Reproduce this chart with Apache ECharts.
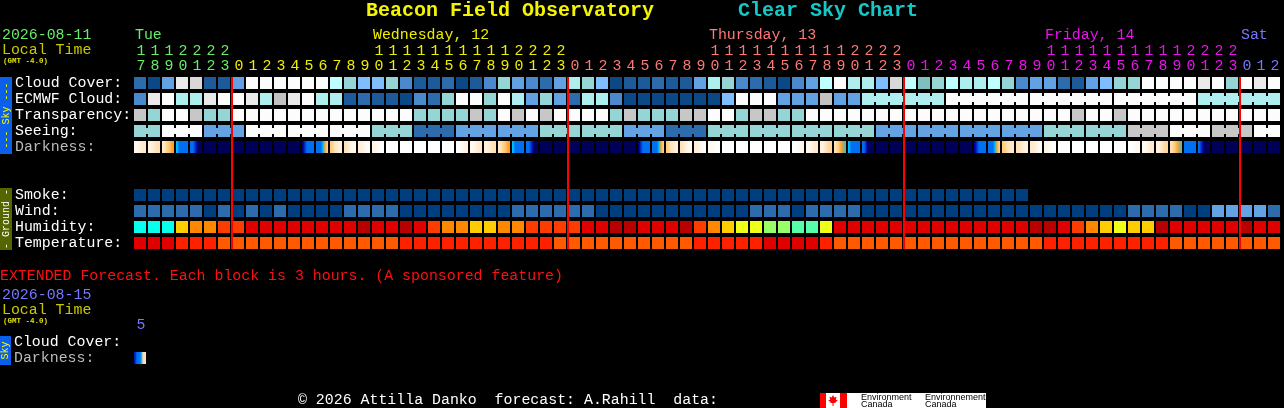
<!DOCTYPE html>
<html><head><meta charset="utf-8">
<script src="https://cdn.jsdelivr.net/npm/echarts@6/dist/echarts.min.js"></script>
<style>html,body{margin:0;padding:0;background:#000;}#c{width:1284px;height:408px;}</style>
</head><body><div id="c"></div>
<script>
// ---------- DATA ----------
const hours = [17,18,19,20,21,22,23,
  0,1,2,3,4,5,6,7,8,9,10,11,12,13,14,15,16,17,18,19,20,21,22,23,
  0,1,2,3,4,5,6,7,8,9,10,11,12,13,14,15,16,17,18,19,20,21,22,23,
  0,1,2,3,4,5,6,7,8,9,10,11,12,13,14,15,16,17,18,19,20,21,22,23,
  0,1,2];
const dayNames = ['Tue','Wednesday, 12','Thursday, 13','Friday, 14','Sat'];
const skyRows = ['Cloud Cover:','ECMWF Cloud:','Transparency:','Seeing:','Darkness:'];
const groundRows = ['Smoke:','Wind:','Humidity:','Temperature:'];

// cloud level index (0 = clear ... 13 = overcast)
const cloudCover = [2,0,4,12,11,1,1,4,13,13, 13,13,13,13,9,7,5,5,7,3,
  1,1,2,0,1,3,7,4,3,2, 4,8,7,5,0,1,1,2,1,1,
  4,8,7,3,2,1,0,3,4,9, 13,8,8,5,11,9,6,7,9,8,
  8,9,7,3,4,4,2,1,4,5, 7,7,13,13,13,13,12,13,7,13, 12,13];
const ecmwfCloud = [3,12,13,8,8,12,13,13,12,8, 10,12,13,8,8,1,2,1,1,0,
  3,2,7,13,13,7,13,8,4,7, 4,2,8,8,3,0,0,0,0,0,
  0,0,5,13,13,13,4,4,4,10, 4,4,8,8,8,8,8,8,13,13,
  13,13,13,13,13,13,13,13,13,13, 13,13,13,13,13,13,8,8,8,8, 8,8];
// 0 = best ... 4 = poor, 5 = too cloudy
const transparency = [4,3,5,5,4,3,3,5,5,5, 5,5,5,5,5,5,5,5,5,5,
  3,3,3,3,4,3,5,4,5,4, 5,5,5,5,3,4,3,3,3,4,
  4,5,5,3,4,4,3,3,5,5, 5,5,5,5,5,5,5,5,5,5,
  5,5,5,5,5,5,5,4,5,5, 4,5,5,5,5,5,5,5,5,5, 5,5];
const seeing = [3,3,5,5,5,2,2,2,5,5, 5,5,5,5,5,5,5,3,3,3,
  1,1,1,2,2,2,2,2,2,3, 3,3,3,3,3,2,2,2,1,1,
  1,3,3,3,3,3,3,3,3,3, 3,3,3,2,2,2,2,2,2,2,
  2,2,2,2,2,3,3,3,3,3, 3,4,4,4,5,5,5,4,4,4, 5,5];
// darkness samples across each hour (0 = daylight ... 9 = darkest)
const darkness = [
  [0.5,1.5],[1,2],[1.5,2.5,3.2,4],[5,6,6,6,6,6],[6,6,7,8,9,9],
  [9],[9],[9],[9],[9],[9],[9],
  [8.5,7,6,6,6,6],[6,6,6,5,4,3],[3,2,1.5,1],[2,1,0.5],[1.2,0.3],[0.8,0],
  [0],[0],[0],[0],[0],
  [0,0.8],[0.5,1.5],[1,2],[1.5,2.5,3.2,4],[5,6,6,6,6,6],[6,6,7,8,9,9],
  [9],[9],[9],[9],[9],[9],[9],
  [8.5,7,6,6,6,6],[6,6,6,5,4,3],[3,2,1.5,1],[2,1,0.5],[1.2,0.3],[0.5,0],
  [0],[0],[0],[0],[0],
  [0,0.6],[0.5,1.5],[1,2.5],[2,3,4,4.6],[5,6,6,6,6,6],[6,6.5,8,9,9,9],
  [9],[9],[9],[9],[9],[9],[9],
  [8,7,6,6,6,6],[6,6,6,5,4,3],[3,2,1.5],[2,1],[1.5,0.5],[0.8,0],
  [0],[0],[0],[0],[0],
  [0,0.5],[0.5,1.5],[1,2.5],[2,3,3.8,4.5],[6],[6,7,8,9,9,9],
  [9],[9],[9],[9],[9]];
const smoke = [0,0,0,0,0,0,0,0,0,0, 0,0,0,0,0,0,0,0,0,0,
  0,0,0,0,0,0,0,0,0,0, 0,0,0,0,0,0,0,0,0,0,
  0,0,0,0,0,0,0,0,0,0, 0,0,0,0,0,0,0,0,0,0,
  0,0,0,0,null,null,null,null,null,null, null,null,null,null,null,null,null,null,null,null, null,null];
const wind = [1,1,1,1,1,0,1,0,1,0, 1,0,0,0,0,1,1,1,1,0,
  0,0,0,0,0,0,0,1,1,1, 1,1,1,0,0,0,0,0,0,0,
  0,0,0,0,1,1,1,0,1,1, 1,1,0,0,0,0,0,0,0,0,
  0,0,0,0,0,0,0,0,0,0, 0,1,1,1,1,0,0,2,2,2, 2,1];
const humidity = [0,0,0,4,5,5,6,6,7,7, 7,7,7,7,7,7,8,7,7,8,
  7,6,5,5,4,4,5,5,6,6, 6,6,7,7,8,8,7,7,7,8,
  6,5,4,3,3,2,2,1,1,3, 7,7,7,7,7,7,7,7,7,7,
  7,7,7,7,8,8,7,6,5,4, 3,4,4,8,7,7,7,7,7,8, 7,7];
const temperature = [0,0,0,1,1,1,2,2,2,2, 2,2,2,2,2,2,2,2,2,1,
  1,1,1,1,1,1,1,1,1,1, 2,2,2,2,2,2,2,2,2,2,
  1,1,1,1,1,0,0,0,0,1, 2,2,2,2,2,2,2,2,2,2,
  2,2,2,2,2,1,1,1,1,1, 1,1,1,1,2,2,2,2,2,2, 2,2];

// extended forecast
const extHours = [5];
const extRows = ['Cloud Cover:','Darkness:'];
const extCloudCover = [null];
const extDarkness = [[7.5,6,6,5.5,2.5,2]];

// ---------- STYLE ----------
const FONT = "'Liberation Mono','DejaVu Sans Mono',monospace";
const FS = 14.9;
const dayColors = ['#66EE66','#EEEE00','#FF7777','#EE11EE','#7777FF'];
const cloudPalette = ['#0B4886','#1C5A9A','#2C6CAC','#4A8ACC','#62A2E2','#7EBEFE','#7FBFBF',
  '#95D5D5','#AEEEEE','#C0FFFF','#C2C2C2','#D8D8D8','#EAEAEA','#FCFCFC'];
const skyPalette = ['#003F7F','#2C6CAC','#63A3E3','#95D5D5','#C7C7C7','#FCFCFC'];
const smokePalette = ['#003F7F'];
const windPalette = ['#003F7F','#2C6CAC','#63A3E3'];
const humidityPalette = ['#08FFEE','#55FFAA','#99FF66','#EEFF18','#FFCC00','#FF8800','#FF3C00','#E00000','#B80000'];
const tempPalette = ['#E00000','#FF2000','#FF5A00'];
const darkPalette = ['#FFFFFF','#FFF2E0','#FFE2B8','#FFCC80','#FFA020','#00C0FF','#0070F0','#0038D0','#0000A0','#000058'];

// ---------- DERIVED ----------
const dayOf = []; (function(){ let d = 0; hours.forEach((h,i)=>{ if (i>0 && h===0) d++; dayOf.push(d); }); })();
const absHour = hours.map((h,i)=>h + 24*dayOf[i]);
const dayLabelCols = dayNames.map((_,k)=>{
  const cols = hours.map((h,i)=>i).filter(i=>dayOf[i]===k);
  const c = cols.find(i=>hours[i]>=10);
  return c !== undefined ? c : cols[0];
});
const seeingBlockHours = 3, ecmwfBlockHours = 6, ecmwfBlockFromCol = 52;
const seeingSame = (a,b)=>Math.floor((absHour[a]-1)/seeingBlockHours)===Math.floor((absHour[b]-1)/seeingBlockHours);
const ecmwfSame = (a,b)=>a>=ecmwfBlockFromCol && Math.floor((absHour[a]-3)/ecmwfBlockHours)===Math.floor((absHour[b]-3)/ecmwfBlockHours);
const rowNames = [...skyRows, ' ', '  ', ...groundRows];

function hex2rgb(h){ return [1,3,5].map(k=>parseInt(h.substr(k,2),16)); }
function darkColor(v){
  const lo = Math.max(0, Math.min(darkPalette.length-1, Math.floor(v)));
  const hi = Math.min(lo+1, darkPalette.length-1), t = v - lo;
  const a = hex2rgb(darkPalette[lo]), b = hex2rgb(darkPalette[hi]);
  return 'rgb(' + a.map((x,k)=>Math.round(x+(b[k]-x)*t)).join(',') + ')';
}

function blockSeries(name, row, values, palette, same, xi, yi){
  return {
    type:'custom', name, xAxisIndex: xi||0, yAxisIndex: yi||0,
    data: values.map((v,i)=>[i,row]), encode:{x:0,y:1}, z:2,
    renderItem(params, api){
      const i = api.value(0), v = values[i];
      if (v == null) return;
      const c = api.coord([i,row]), s = api.size([1,1]);
      const bw = s[0]-2, bh = s[1]-4;
      const x = c[0]-s[0]/2, y = c[1]-s[1]/2+2;
      const fill = palette[v];
      const ch = [{type:'rect', shape:{x, y, width:bw, height:bh}, style:{fill}}];
      if (same && i+1 < values.length && values[i+1] === v && same(i,i+1)) {
        ch.push({type:'rect', shape:{x:x+bw-0.5, y:y+3, width:s[0]-bw+1, height:6}, style:{fill}});
      }
      return {type:'group', children: ch};
    }
  };
}
function darkSeries(row, samplesList, xi, yi){
  return {
    type:'custom', name:'darkness', xAxisIndex: xi||0, yAxisIndex: yi||0,
    data: samplesList.map((v,i)=>[i,row]), encode:{x:0,y:1}, z:2,
    renderItem(params, api){
      const i = api.value(0), smp = samplesList[i];
      const c = api.coord([i,row]), s = api.size([1,1]);
      const x = c[0]-s[0]/2, y = c[1]-s[1]/2+2;
      let fill;
      if (smp.length === 1) fill = darkColor(smp[0]);
      else fill = new echarts.graphic.LinearGradient(0,0,1,0,
        smp.map((v,k)=>({offset:(k+0.5)/smp.length, color:darkColor(v)})));
      return {type:'rect', shape:{x, y, width:s[0]-2, height:s[1]-4}, style:{fill}};
    }
  };
}

const chart = echarts.init(document.getElementById('c'), null, {renderer:'canvas'});
const hideAxisBits = {axisLine:{show:false}, axisTick:{show:false}, splitLine:{show:false}};
const colIdx = v => +String(v).slice(1);

const option = {
  backgroundColor:'#000',
  animation:false,
  grid:[
    {left:134, top:75, width:1148, height:176, outerBoundsMode:'none', containLabel:false},
    {left:134, top:334, width:14, height:32, outerBoundsMode:'none', containLabel:false}
  ],
  xAxis:[
    Object.assign({type:'category', gridIndex:0, position:'top', data: hours.map((h,i)=>'c'+i),
      axisLabel:{interval:0, margin:1.5, fontFamily:FONT, fontSize:FS, lineHeight:15,
        color:(v)=>dayColors[dayOf[colIdx(v)]], formatter:(v)=>String(hours[colIdx(v)]%10)}}, hideAxisBits),
    Object.assign({type:'category', gridIndex:0, position:'top', offset:15, data: hours.map((h,i)=>'c'+i),
      axisLabel:{interval:0, margin:1.5, fontFamily:FONT, fontSize:FS, lineHeight:15,
        color:(v)=>dayColors[dayOf[colIdx(v)]],
        formatter:(v)=>{ const h = hours[colIdx(v)]; return h>=10 ? String(Math.floor(h/10)) : ''; }}}, hideAxisBits),
    Object.assign({type:'category', gridIndex:1, position:'top', data: extHours.map(String),
      axisLabel:{interval:0, margin:1.5, fontFamily:FONT, fontSize:FS, lineHeight:15, color:'#7777FF'}}, hideAxisBits)
  ],
  yAxis:[
    Object.assign({type:'category', gridIndex:0, inverse:true, data: rowNames,
      axisLabel:{interval:0, align:'left', margin:119, fontFamily:FONT, fontSize:FS,
        color:(v)=> v==='Darkness:' ? '#BBBBBB' : '#FFFFFF'}}, hideAxisBits),
    Object.assign({type:'category', gridIndex:1, inverse:true, data: extRows,
      axisLabel:{interval:0, align:'left', margin:120, fontFamily:FONT, fontSize:FS,
        color:(v)=> v==='Darkness:' ? '#BBBBBB' : '#FFFFFF'}}, hideAxisBits)
  ],
  series:[
    blockSeries('Cloud Cover', 0, cloudCover, cloudPalette),
    blockSeries('ECMWF Cloud', 1, ecmwfCloud, cloudPalette, ecmwfSame),
    blockSeries('Transparency', 2, transparency, skyPalette),
    blockSeries('Seeing', 3, seeing, skyPalette, seeingSame),
    darkSeries(4, darkness),
    blockSeries('Smoke', 7, smoke, smokePalette),
    blockSeries('Wind', 8, wind, windPalette),
    blockSeries('Humidity', 9, humidity, humidityPalette),
    blockSeries('Temperature', 10, temperature, tempPalette),
    {
      type:'custom', name:'midnight', xAxisIndex:0, yAxisIndex:0, z:10,
      data: hours.map((h,i)=>i).filter(i=>i>0 && hours[i]===0).map(i=>[i,0]), encode:{x:0,y:1},
      renderItem(params, api){
        const i = api.value(0);
        const c0 = api.coord([i,0]), c1 = api.coord([i,rowNames.length-1]), s = api.size([1,1]);
        const y0 = c0[1]-s[1]/2+2, y1 = c1[1]+s[1]/2-2;
        return {type:'rect', shape:{x:c0[0]-s[0]/2-1, y:y0, width:2, height:y1-y0}, style:{fill:'#FF0000'}};
      }
    },
    {
      type:'custom', name:'days', xAxisIndex:0, yAxisIndex:0, z:10,
      data: dayLabelCols.map(c=>[c,0]), encode:{x:0,y:1},
      renderItem(params, api){
        const k = params.dataIndex, i = api.value(0);
        const c = api.coord([i,0]), s = api.size([1,1]);
        return {type:'text', x:c[0]-s[0]/2+1, y:c[1]-s[1]/2-40,
          style:{text:dayNames[k], fill:dayColors[k], font: FS+'px '+FONT, align:'left', verticalAlign:'middle'}};
      }
    },
    blockSeries('Ext Cloud Cover', 0, extCloudCover, cloudPalette, null, 2, 1),
    darkSeries(1, extDarkness, 2, 1)
  ],
  graphic:[
    {type:'text', x:366, y:11, style:{text:'Beacon Field Observatory', fill:'#F4F400', font:'bold 20px '+FONT, verticalAlign:'middle'}},
    {type:'text', x:738, y:11, style:{text:'Clear Sky Chart', fill:'#14C8C8', font:'bold 20px '+FONT, verticalAlign:'middle'}},
    {type:'text', x:2, y:35, style:{text:'2026-08-11', fill:'#66EE66', font:FS+'px '+FONT, verticalAlign:'middle'}},
    {type:'text', x:2, y:50.5, style:{text:'Local Time', fill:'#C8C800', font:FS+'px '+FONT, verticalAlign:'middle'}},
    {type:'text', x:3, y:61.5, style:{text:'(GMT -4.0)', fill:'#E0E000', font:'bold 7.5px '+FONT, verticalAlign:'middle'}},
    {type:'rect', shape:{x:0, y:77, width:12, height:77}, style:{fill:'#0A60EA'}},
    {type:'text', x:6, y:115.5, rotation:Math.PI/2, style:{text:'--- Sky ---', fill:'#FFFF00', font:'10px '+FONT, align:'center', verticalAlign:'middle'}},
    {type:'rect', shape:{x:0, y:188, width:12, height:62}, style:{fill:'#556600'}},
    {type:'text', x:6, y:219, rotation:Math.PI/2, style:{text:'- Ground -', fill:'#FFFFFF', font:'10px '+FONT, align:'center', verticalAlign:'middle'}},
    {type:'text', x:0, y:276.5, style:{text:'EXTENDED Forecast. Each block is 3 hours. (A sponsored feature)', fill:'#FF1010', font:FS+'px '+FONT, verticalAlign:'middle'}},
    {type:'text', x:2, y:295, style:{text:'2026-08-15', fill:'#7777FF', font:FS+'px '+FONT, verticalAlign:'middle'}},
    {type:'text', x:2, y:310.5, style:{text:'Local Time', fill:'#C8C800', font:FS+'px '+FONT, verticalAlign:'middle'}},
    {type:'text', x:3, y:321.5, style:{text:'(GMT -4.0)', fill:'#E0E000', font:'bold 7.5px '+FONT, verticalAlign:'middle'}},
    {type:'rect', shape:{x:0, y:336, width:11, height:29}, style:{fill:'#0A60EA'}},
    {type:'text', x:5.5, y:350.5, rotation:Math.PI/2, style:{text:'Sky', fill:'#FFFF00', font:'10px '+FONT, align:'center', verticalAlign:'middle'}},
    {type:'text', x:298, y:400, style:{text:'\u00A9 2026 Attilla Danko  forecast: A.Rahill  data:', fill:'#FFFFFF', font:FS+'px '+FONT, verticalAlign:'middle'}},
    {type:'group', children:[
      {type:'rect', shape:{x:820, y:393, width:166, height:15}, style:{fill:'#FFFFFF'}},
      {type:'rect', shape:{x:820, y:393, width:6, height:15}, style:{fill:'#FF0000'}},
      {type:'rect', shape:{x:840, y:393, width:7, height:15}, style:{fill:'#FF0000'}},
      {type:'polygon', shape:{points:[[833,395],[834.3,397.5],[836.5,396.8],[835.8,400],[837.8,400],[835,403],[833.5,403],[833.5,406],[832.5,406],[832.5,403],[831,403],[828.2,400],[830.2,400],[829.5,396.8],[831.7,397.5]]}, style:{fill:'#FF0000'}},
      {type:'text', x:861, y:397.5, style:{text:'Environment', fill:'#000', font:'9px "Liberation Sans",sans-serif', verticalAlign:'middle'}},
      {type:'text', x:861, y:405, style:{text:'Canada', fill:'#000', font:'9px "Liberation Sans",sans-serif', verticalAlign:'middle'}},
      {type:'text', x:925, y:397.5, style:{text:'Environnement', fill:'#000', font:'9px "Liberation Sans",sans-serif', verticalAlign:'middle'}},
      {type:'text', x:925, y:405, style:{text:'Canada', fill:'#000', font:'9px "Liberation Sans",sans-serif', verticalAlign:'middle'}}
    ]}
  ]
};
chart.setOption(option);
</script>
</body></html>
